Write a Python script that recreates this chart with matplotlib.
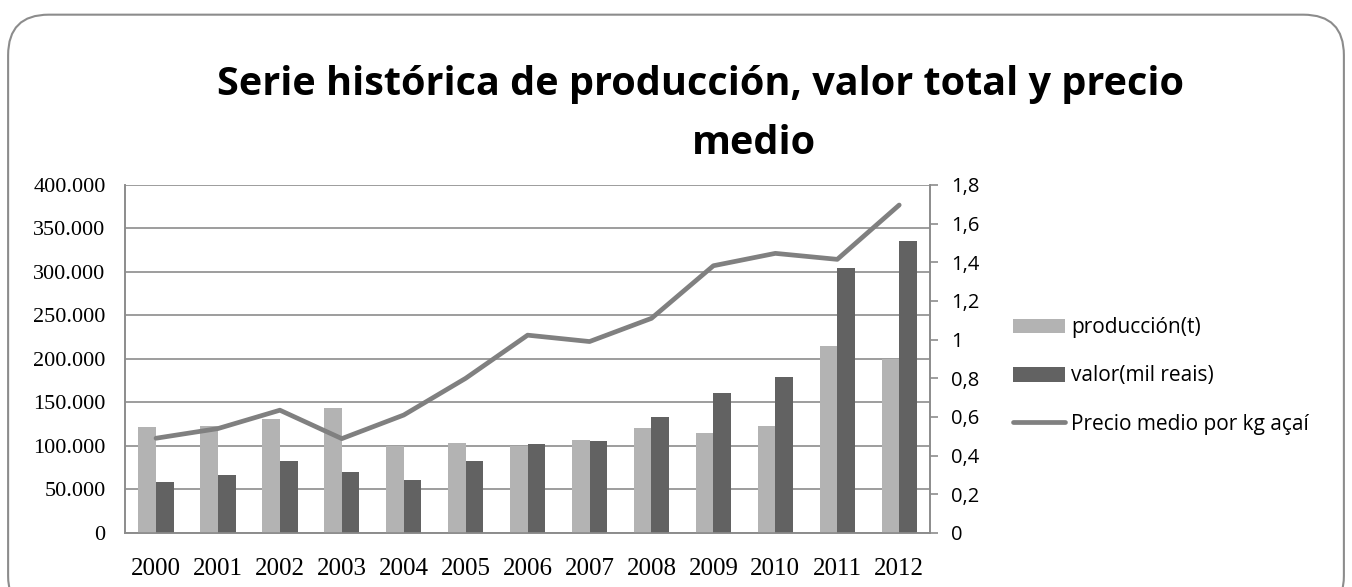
import numpy as np
import matplotlib.pyplot as plt
from matplotlib.patches import FancyBboxPatch
from matplotlib.ticker import FuncFormatter

# datos
anios = ['2000', '2001', '2002', '2003', '2004', '2005', '2006',
         '2007', '2008', '2009', '2010', '2011', '2012']
produccion = [121600, 122700, 131500, 144200, 100500, 103900, 100500,
              107400, 120400, 115400, 123500, 214800, 199400]
valor = [58700, 66300, 82500, 69800, 61000, 82500, 102800,
         105800, 133100, 160300, 178700, 304500, 336000]
precio = [0.49, 0.54, 0.635, 0.488, 0.61, 0.80, 1.023,
          0.99, 1.11, 1.382, 1.446, 1.415, 1.696]

fig = plt.figure(figsize=(13.52, 5.87), dpi=100)

# marco redondeado
marco = FancyBboxPatch((0.006, -0.05), 0.988, 1.025, boxstyle='round,pad=0,rounding_size=0.03',
                       transform=fig.transFigure, facecolor='none', edgecolor='#8c8c8c',
                       linewidth=1.5, mutation_aspect=1352 / 587, zorder=-1)
fig.patches.append(marco)

ax = fig.add_axes([0.0925, 0.092, 0.5955, 0.593])
ax2 = ax.twinx()

x = np.arange(len(anios))
w = 0.285
ax.bar(x - w / 2, produccion, w, color='#b3b3b3', label='producción(t)', zorder=3)
ax.bar(x + w / 2, valor, w, color='#626262', label='valor(mil reais)', zorder=3)
ax2.plot(x, precio, color='#808080', linewidth=3.4, label='Precio medio por kg açaí',
         solid_capstyle='round')

ax.set_xlim(-0.5, len(anios) - 0.5)
ax.set_ylim(0, 400000)
ax.set_yticks(np.arange(0, 400001, 50000))
ax.yaxis.set_major_formatter(FuncFormatter(lambda v, p: '0' if v == 0 else '{:,.0f}'.format(v).replace(',', '.')))
ax.yaxis.grid(True, color='#8c8c8c', linewidth=1.2, zorder=0)
ax.set_axisbelow(True)
ax.set_xticks(x)
ax.set_xticklabels(anios)
ax.tick_params(axis='x', length=0, pad=18, labelsize=18)
ax.tick_params(axis='y', length=0, pad=14, labelsize=16)
for lab in ax.get_xticklabels() + ax.get_yticklabels():
    lab.set_family('Liberation Serif')

ax2.set_ylim(0, 1.8)
ax2.set_yticks(np.arange(0, 1.81, 0.2))
ax2.yaxis.set_major_formatter(FuncFormatter(lambda v, p: '0' if abs(v) < 1e-9 else ('1' if abs(v - 1) < 1e-9 else '{:.1f}'.format(v).replace('.', ','))))
ax2.tick_params(axis='y', length=6, width=1.2, color='#8c8c8c', pad=9, labelsize=14.5)
for lab in ax2.get_yticklabels():
    lab.set_family('Open Sans')

for a in (ax, ax2):
    a.spines['top'].set_visible(False)
    for s in ('left', 'bottom', 'right'):
        a.spines[s].set_color('#8c8c8c')
        a.spines[s].set_linewidth(1.2)

fig.text(0.518, 1 - 85 / 587, 'Serie histórica de producción, valor total y precio',
         ha='center', va='center', fontsize=28.5, fontweight='bold', family='Open Sans')
fig.text(0.558, 1 - 144 / 587, 'medio',
         ha='center', va='center', fontsize=28.5, fontweight='bold', family='Open Sans')

h1, l1 = ax.get_legend_handles_labels()
h2, l2 = ax2.get_legend_handles_labels()
ax.legend(h1 + h2, l1 + l2, loc='center left', bbox_to_anchor=(0.7355, 1 - 376 / 587),
          bbox_transform=fig.transFigure, frameon=False, prop={'family': 'Open Sans', 'size': 15},
          handlelength=2.5, handletextpad=0.3, labelspacing=1.3)

fig.savefig('out.png', dpi=100)
